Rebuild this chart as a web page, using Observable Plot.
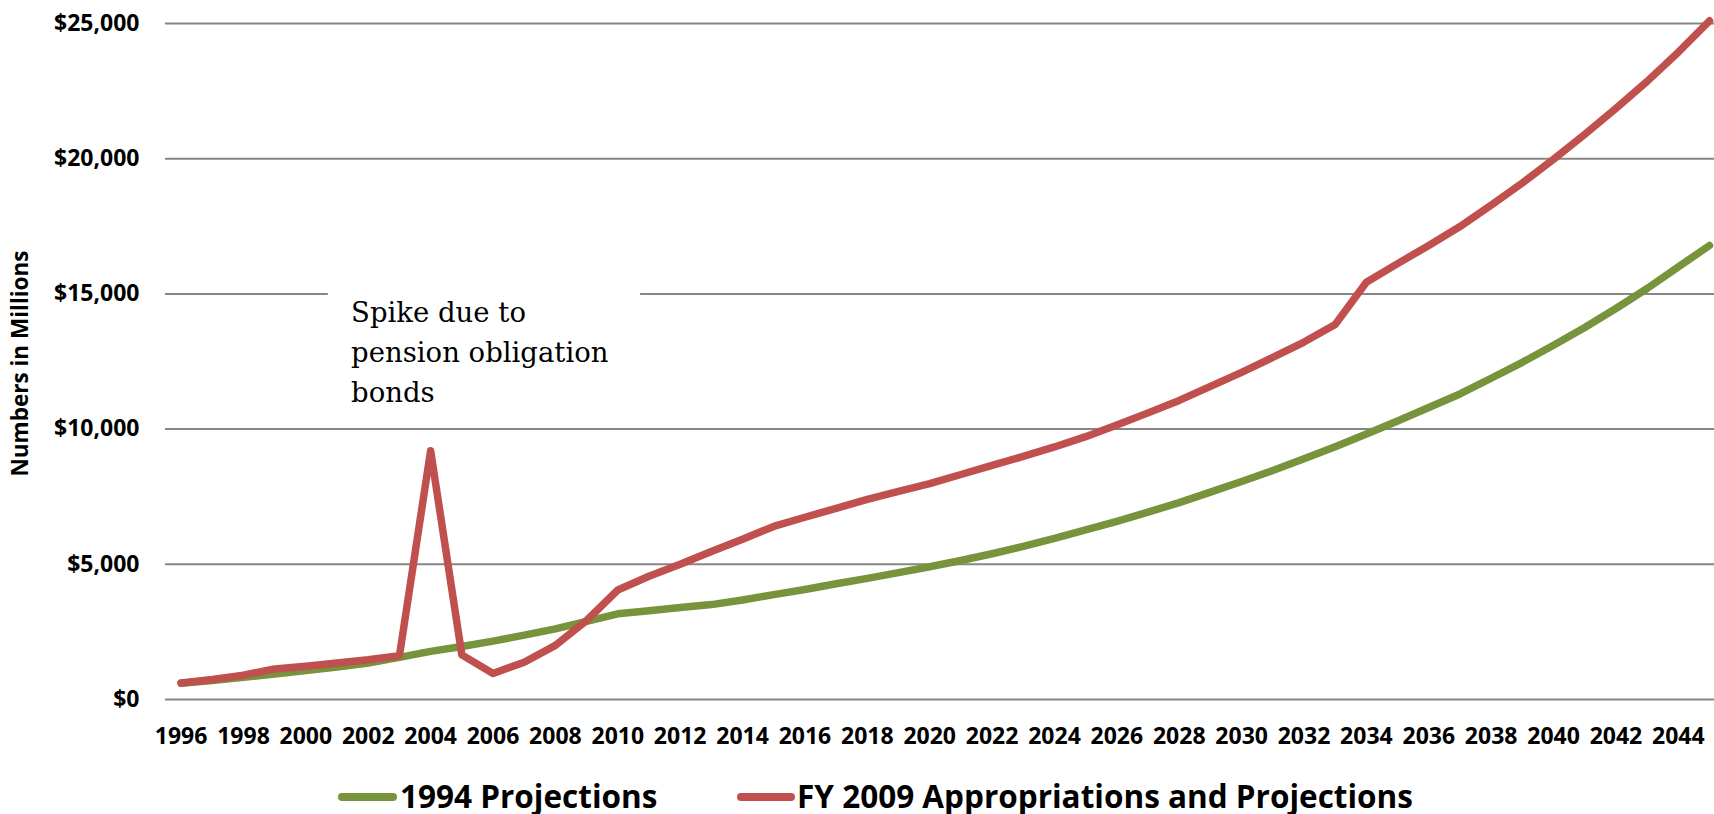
<!DOCTYPE html>
<html>
<head>
<meta charset="utf-8">
<script src="https://cdn.jsdelivr.net/npm/d3@7"></script>
<script src="https://cdn.jsdelivr.net/npm/@observablehq/plot@0.6"></script>
<style>
  html, body { margin: 0; padding: 0; background: #fff; }
  #wrap { position: relative; width: 1714px; height: 814px; overflow: hidden; }
  #legend { position: absolute; left: 0; top: 760px; width: 1714px; height: 54px; font-family: "Open Sans", sans-serif; font-weight: 700; font-size: 31.5px; color: #000; }
  .sw { position: absolute; height: 8px; border-radius: 4px; top: 33px; }
  .lt { position: absolute; top: 16px; line-height: 40px; white-space: nowrap; }
</style>
</head>
<body>
<div id="wrap">
  <div id="chart"></div>
  <div id="legend"></div>
</div>
<script>
const years = [1996,1997,1998,1999,2000,2001,2002,2003,2004,2005,2006,2007,2008,2009,2010,2011,2012,2013,2014,2015,2016,2017,2018,2019,2020,2021,2022,2023,2024,2025,2026,2027,2028,2029,2030,2031,2032,2033,2034,2035,2036,2037,2038,2039,2040,2041,2042,2043,2044,2045];

const projections1994 = [600,700,820,940,1070,1200,1350,1560,1780,1960,2160,2380,2610,2890,3170,3280,3400,3510,3680,3880,4070,4280,4480,4690,4910,5140,5390,5660,5960,6270,6590,6930,7280,7670,8060,8470,8900,9350,9820,10300,10800,11300,11880,12470,13100,13760,14460,15200,16000,16790];

const fy2009 = [610,740,900,1130,1230,1350,1470,1620,9200,1650,960,1380,2000,2920,4050,4560,5000,5470,5930,6400,6740,7070,7400,7700,7980,8320,8660,8990,9340,9720,10150,10600,11060,11580,12100,12650,13220,13870,15430,16120,16790,17490,18280,19100,19980,20900,21860,22860,23940,25100];

const seriesNames = ["1994 Projections", "FY 2009 Appropriations and Projections"];
const seriesColors = ["#77933C", "#C0504D"];

const yTicks = [0, 5000, 10000, 15000, 20000, 25000];
const xTicks = [1996,1998,2000,2002,2004,2006,2008,2010,2012,2014,2016,2018,2020,2022,2024,2026,2028,2030,2032,2034,2036,2038,2040,2042,2044];

const yLabel = "Numbers in Millions";
const noteText = "Spike due to\npension obligation\nbonds";
const noteAnchor = [{year: 2001.45, value: 15000}];
const noteBox = [{x1: 2000.72, x2: 2010.73, y1: 10600, y2: 15600}];

const rows = [];
years.forEach((yr, i) => {
  rows.push({year: yr, value: projections1994[i], series: seriesNames[0]});
});
years.forEach((yr, i) => {
  rows.push({year: yr, value: fy2009[i], series: seriesNames[1]});
});

const fmt = d => "$" + d3.format(",")(d);

const chart = Plot.plot({
  width: 1714,
  height: 760,
  marginTop: 23,
  marginBottom: 61,
  marginLeft: 165,
  marginRight: 0,
  style: {fontFamily: "Open Sans, sans-serif", fontWeight: "700", fontSize: "23px", color: "#000", background: "#fff"},
  x: {type: "linear", domain: [1995.5, 2045.16]},
  y: {domain: [0, 25000]},
  marks: [
    Plot.ruleY(yTicks, {stroke: "#868686", strokeWidth: 2}),
    Plot.rect(noteBox, {x1: "x1", x2: "x2", y1: "y1", y2: "y2", fill: "#fff"}),
    Plot.axisY({ticks: yTicks, tickFormat: fmt, tickSize: 0, tickPadding: 26, label: null, fontSize: 23, fontWeight: 700}),
    Plot.axisX({ticks: xTicks, tickFormat: d => String(d), tickSize: 0, tickPadding: 28, label: null, fontSize: 23, fontWeight: 700}),
    Plot.line(rows.filter(d => d.series === seriesNames[0]), {x: "year", y: "value", stroke: seriesColors[0], strokeWidth: 7.5, strokeLinecap: "round", strokeLinejoin: "round"}),
    Plot.line(rows.filter(d => d.series === seriesNames[1]), {x: "year", y: "value", stroke: seriesColors[1], strokeWidth: 7.5, strokeLinecap: "round", strokeLinejoin: "round"}),
    Plot.text(noteAnchor, {x: "year", y: "value", text: () => noteText, textAnchor: "start", lineAnchor: "top", lineHeight: 1.45, fontFamily: "DejaVu Serif, serif", fontWeight: 400, fontSize: 27.5, fill: "#000"}),
    Plot.text([yLabel], {frameAnchor: "left", textAnchor: "middle", dx: -145, dy: 2, rotate: -90, text: d => d, fontSize: 22.5, fontWeight: 700, fill: "#000"})
  ]
});
document.getElementById("chart").appendChild(chart);

const legend = document.getElementById("legend");
const legendPos = [{sw: 338, swW: 59, tx: 400}, {sw: 737, swW: 58, tx: 797}];
seriesNames.forEach((name, i) => {
  const s = document.createElement("div");
  s.className = "sw";
  s.style.left = legendPos[i].sw + "px";
  s.style.width = legendPos[i].swW + "px";
  s.style.background = seriesColors[i];
  legend.appendChild(s);
  const t = document.createElement("div");
  t.className = "lt";
  t.style.left = legendPos[i].tx + "px";
  t.textContent = name;
  legend.appendChild(t);
});
</script>
</body>
</html>
